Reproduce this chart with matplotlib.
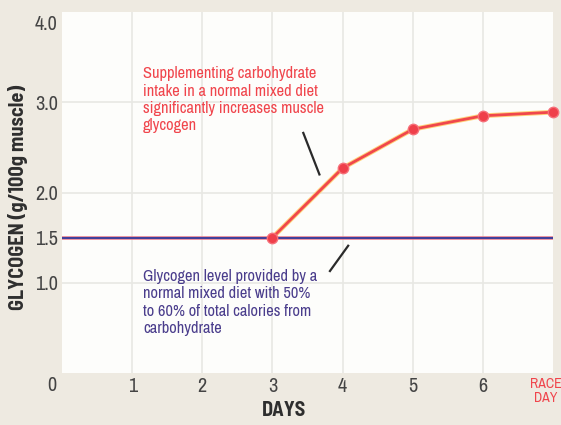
import matplotlib
matplotlib.use("Agg")
import matplotlib.pyplot as plt
import matplotlib.transforms as mtransforms

days = [3, 4, 5, 6, 7]
glycogen = [1.5, 2.27, 2.70, 2.85, 2.89]
baseline = 1.5
x_ticks = [0, 1, 2, 3, 4, 5, 6, 7]
x_labels = ["", "1", "2", "3", "4", "5", "6", "RACE\nDAY"]
y_ticks = [0, 1.0, 1.5, 2.0, 3.0, 4.0]
y_labels = ["0", "1.0", "1.5", "2.0", "3.0", "4.0"]
red_note = "Supplementing carbohydrate\nintake in a normal mixed diet\nsignificantly increases muscle\nglycogen"
blue_note = "Glycogen level provided by a\nnormal mixed diet with 50%\nto 60% of total calories from\ncarbohydrate"

FONT = ["Archivo Narrow", "DejaVu Sans"]
BOLD = ["Barlow Semi Condensed", "Archivo Narrow", "DejaVu Sans"]
plt.rcParams["font.family"] = FONT

fig = plt.figure(figsize=(5.61, 4.25), dpi=100, facecolor="#eeeae1")
ax = fig.add_axes([62 / 561, 1 - 373 / 425, (553 - 62) / 561, (373 - 12) / 425])
ax.set_facecolor("#fdfdfb")
ax.set_xlim(0, 7.0)
ax.set_ylim(0, 4.0)
for s in ax.spines.values():
    s.set_visible(False)

for gx in [1, 2, 3, 4, 5, 6]:
    ax.axvline(gx, color="#e8e8e4", lw=1.2, zorder=0)
for gy in [1.0, 2.0, 3.0]:
    ax.axhline(gy, color="#e8e8e4", lw=1.2, zorder=0)

ax.axhline(baseline, color="#e8808e", lw=2.6, zorder=2)
ax.axhline(baseline, color="#3d3f9c", lw=1.4, zorder=3)

ax.plot(days, glycogen, color="#ffd27a", lw=3.4, zorder=4, solid_capstyle="round", clip_on=False)
ax.plot(days, glycogen, color="#f0474c", lw=2.0, marker="o", ms=7.5,
        markerfacecolor="#ef3f4a", markeredgecolor="#f6707a", zorder=5, clip_on=False)

ax.set_xticks(x_ticks)
ax.set_xticklabels(x_labels)
ax.set_yticks(y_ticks)
ax.set_yticklabels(y_labels)
ax.tick_params(axis="both", length=0, colors="#444444", labelsize=14.5)
ax.tick_params(axis="x", pad=3)
ax.tick_params(axis="y", pad=3)

xl = ax.get_xticklabels()
xl[-1].set_color("#f0454c")
xl[-1].set_fontsize(10)
xl[-1].set_linespacing(0.95)
xl[-1].set_transform(xl[-1].get_transform() + mtransforms.ScaledTranslation(-5 / 72, 0, fig.dpi_scale_trans))
yl = ax.get_yticklabels()
yl[0].set_transform(yl[0].get_transform() + mtransforms.ScaledTranslation(-1 / 72, -7.5 / 72, fig.dpi_scale_trans))
yl[-1].set_transform(yl[-1].get_transform() + mtransforms.ScaledTranslation(0, -7.5 / 72, fig.dpi_scale_trans))

ax.set_xlabel("DAYS", fontsize=14.5, fontweight="bold", color="#2e2e2e", family=BOLD)
ax.xaxis.set_label_coords((284 - 62) / 491, -(410 - 373) / 361)
ax.xaxis.label.set_va("center")
ax.set_ylabel("GLYCOGEN (g/100g muscle)", fontsize=14.6, fontweight="bold", color="#2e2e2e", family=BOLD)
ax.yaxis.set_label_coords((18 - 62) / 491, (373 - 197) / 361)
ax.yaxis.label.set_va("center")

ax.text(1.155, 3.40, red_note, color="#f0454c", fontsize=11.8, va="top", ha="left", linespacing=1.2)
ax.text(1.155, 1.155, blue_note, color="#4a3d8c", fontsize=11.8, va="top", ha="left", linespacing=1.2)

ax.plot([3.44, 3.67], [2.66, 2.20], color="#2a2a2a", lw=1.6, zorder=6)
ax.plot([4.08, 3.82], [1.41, 1.13], color="#2a2a2a", lw=1.6, zorder=6)

fig.savefig("out.png", dpi=100, facecolor=fig.get_facecolor())
